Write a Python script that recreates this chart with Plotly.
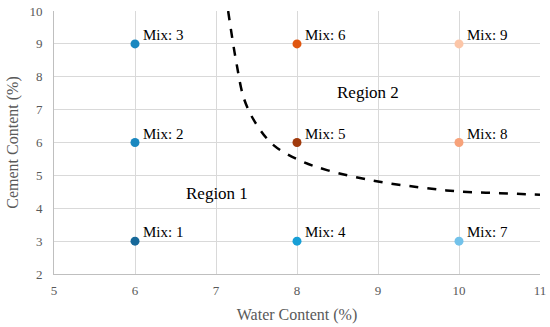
import plotly.graph_objects as go

# Mix points
water = [6, 6, 6, 8, 8, 8, 10, 10, 10]
cement = [3, 6, 9, 3, 6, 9, 3, 6, 9]
mix_labels = ["Mix: 1", "Mix: 2", "Mix: 3", "Mix: 4", "Mix: 5", "Mix: 6", "Mix: 7", "Mix: 8", "Mix: 9"]
mix_colors = ["#17699a", "#1a88c0", "#1a88c0", "#179fd6", "#a03a0c", "#e0560f", "#72c2ea", "#f7a27a", "#fcc6a8"]

# Boundary curve
curve_x = [7.15, 7.25, 7.35, 7.5, 7.71, 8.02, 8.37, 8.94, 9.5, 10.0, 10.5, 11.0]
curve_y = [10.0, 8.45, 7.3, 6.55, 5.92, 5.47, 5.16, 4.84, 4.64, 4.51, 4.46, 4.41]

regions = ["Region 1", "Region 2"]
region_x = [7.01, 8.88]
region_y = [4.46, 7.53]

x_ticks = [5, 6, 7, 8, 9, 10, 11]
y_ticks = [2, 3, 4, 5, 6, 7, 8, 9, 10]

FONT = "Liberation Serif, Times New Roman, serif"

fig = go.Figure()
fig.add_trace(go.Scatter(x=curve_x, y=curve_y, mode="lines",
                         line=dict(color="black", width=2.5, dash="dash", shape="spline"),
                         hoverinfo="skip", showlegend=False, cliponaxis=False))
fig.add_trace(go.Scatter(x=water, y=cement, mode="markers",
                         marker=dict(color=mix_colors, size=9),
                         showlegend=False))

for x, y, t in zip(water, cement, mix_labels):
    fig.add_annotation(x=x, y=y, text=t, showarrow=False, xanchor="left", yanchor="middle",
                       xshift=6, yshift=9, font=dict(family=FONT, size=15, color="black"))
for x, y, t in zip(region_x, region_y, regions):
    fig.add_annotation(x=x, y=y, text=t, showarrow=False, xanchor="center", yanchor="middle",
                       font=dict(family=FONT, size=17, color="black"))

fig.update_layout(
    width=550, height=327,
    margin=dict(l=54, r=10, t=11, b=53, autoexpand=False),
    paper_bgcolor="white", plot_bgcolor="white",
    font=dict(family=FONT, color="#595959"),
    xaxis=dict(range=[5, 11], tickvals=x_ticks, showgrid=True, gridcolor="#d9d9d9", gridwidth=1,
               showline=True, linecolor="#bfbfbf", mirror=False, zeroline=False, automargin=False,
               ticklabeloverflow="allow",
               tickfont=dict(size=13, color="#595959"), ticks="", ticklabelstandoff=4,
               title=dict(text="Water Content (%)", font=dict(size=16, color="#595959"), standoff=12)),
    yaxis=dict(range=[2, 10], tickvals=y_ticks, showgrid=True, gridcolor="#d9d9d9", gridwidth=1,
               showline=True, linecolor="#bfbfbf", mirror=False, zeroline=False, automargin=False,
               ticklabeloverflow="allow",
               tickfont=dict(size=13, color="#595959"), ticks="", ticklabelstandoff=8,
               title=dict(text="Cement Content (%)", font=dict(size=16, color="#595959"), standoff=6)),
)

fig.write_html("out.html", config={"displayModeBar": False},
               post_script="document.body.style.margin='0';")
